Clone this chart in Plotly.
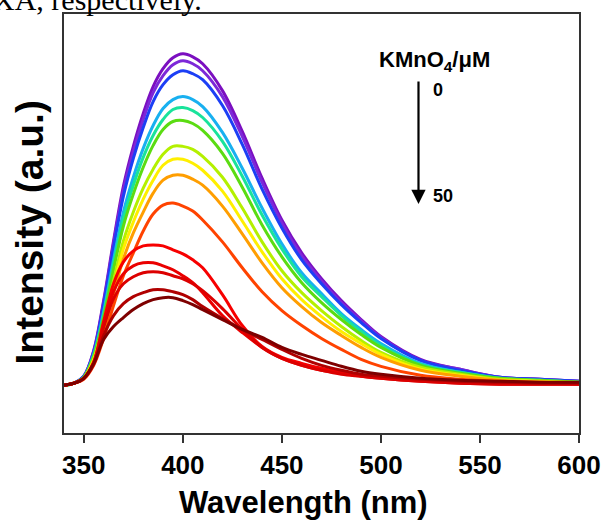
import plotly.graph_objects as go

wavelength = [340, 345, 350, 355, 360, 365, 370, 375, 380, 385, 390, 395, 400, 405, 410,
              420, 430, 440, 450, 460, 470, 480, 490, 500, 520, 540, 560, 580, 600]

conc_labels = ["0", "50"]

c01 = [48, 50, 57, 83, 133, 193, 248, 288, 321, 348, 366, 377, 381, 378, 371, 344, 303, 256, 214, 181, 155, 133, 114, 97, 74, 64, 56, 54, 52]
c02 = [48, 50, 57, 82, 131, 190, 244, 283, 315, 342, 359, 370, 374, 371, 364, 338, 298, 252, 211, 178, 153, 131, 113, 96, 73, 64, 56, 54, 52]
c03 = [48, 50, 57, 81, 129, 186, 238, 276, 307, 333, 350, 360, 364, 361, 355, 329, 290, 245, 206, 174, 150, 129, 111, 95, 73, 63, 56, 54, 52]
c04 = [48, 50, 56, 79, 122, 174, 222, 257, 286, 309, 326, 335, 338, 335, 328, 302, 266, 226, 190, 161, 140, 120, 104, 90, 70, 61, 55, 53, 51]
c05 = [48, 50, 56, 78, 119, 170, 216, 249, 277, 299, 315, 325, 327, 324, 317, 293, 258, 219, 185, 157, 137, 118, 102, 88, 69, 61, 55, 53, 51]
c06 = [48, 50, 56, 77, 116, 164, 208, 240, 267, 289, 305, 313, 314, 311, 304, 281, 247, 209, 177, 151, 131, 114, 99, 86, 68, 60, 55, 53, 51]
c07 = [48, 50, 55, 75, 110, 153, 193, 222, 246, 265, 280, 288, 288, 285, 278, 257, 226, 192, 163, 141, 123, 107, 93, 81, 66, 59, 54, 52, 51]
c08 = [48, 50, 55, 73, 106, 147, 185, 212, 235, 254, 269, 275, 275, 271, 264, 243, 213, 182, 155, 134, 117, 102, 90, 79, 64, 58, 53, 52, 50]
c09 = [48, 50, 55, 72, 102, 140, 175, 201, 222, 241, 254, 259, 259, 255, 249, 228, 200, 171, 146, 127, 111, 98, 86, 76, 63, 57, 53, 51, 50]
c10 = [48, 50, 54, 68, 95, 128, 158, 181, 203, 220, 229, 231, 228, 223, 214, 192, 166, 142, 123, 108, 95, 84, 74, 67, 58, 54, 52, 51, 50]
c11 = [48, 50, 55, 71, 112, 150, 172, 183, 188, 189, 188, 184, 180, 174, 166, 139, 108, 87, 76, 70, 65, 61, 58, 56, 53, 51, 50, 50, 49]
c12 = [48, 50, 55, 71, 110, 142, 160, 168, 171, 171, 168, 164, 158, 151, 141, 118, 101, 86, 75, 68, 63, 60, 57, 55, 52, 50, 49, 49, 49]
c13 = [48, 50, 55, 70, 106, 135, 150, 157, 161, 162, 161, 158, 155, 150, 143, 125, 104, 86, 75, 68, 63, 59, 57, 55, 52, 50, 49, 49, 49]
c14 = [48, 50, 55, 69, 98, 118, 130, 137, 141, 144, 144, 142, 139, 134, 127, 115, 104, 94, 84, 75, 68, 63, 59, 57, 54, 52, 51, 50, 50]
c15 = [48, 50, 55, 70, 94, 107, 116, 124, 130, 134, 136, 136, 133, 129, 124, 114, 104, 96, 86, 79, 73, 67, 62, 59, 55, 53, 52, 51, 51]

series = [c01, c02, c03, c04, c05, c06, c07, c08, c09, c10, c11, c12, c13, c14, c15]
colors = ["#7B0FC0", "#7D28D8", "#1C3FF5", "#18B0F0", "#19E39B", "#5BDC12", "#B4F000",
          "#FFEF00", "#FF9E00", "#FF4300", "#F70000", "#EA0000", "#DC0000", "#B00000", "#7E0000"]

fig = go.Figure()
for ys, col in zip(series, colors):
    fig.add_trace(go.Scatter(x=wavelength, y=ys, mode="lines",
                             line=dict(color=col, width=3, shape="spline", smoothing=1.0),
                             showlegend=False, hoverinfo="skip"))

W, H = 613, 523
L, R, T, B = 64, 26, 12, 90
pw, ph = W - L - R, H - T - B

def px(xp):
    return (xp - L) / pw

def py(yp):
    return (H - B - yp) / ph

font_b = "Liberation Sans, Arial, sans-serif"

fig.update_layout(
    width=W, height=H,
    margin=dict(l=L, r=R, t=T, b=B),
    paper_bgcolor="white", plot_bgcolor="white",
    xaxis=dict(range=[340, 600], tickvals=[350, 400, 450, 500, 550, 600],
               ticks="outside", ticklen=8, tickwidth=1.5, tickcolor="#333",
               showline=True, linecolor="#333", linewidth=1.5, mirror=True,
               showgrid=False, zeroline=False,
               tickfont=dict(family=font_b, size=26, color="black", weight="bold")),
    yaxis=dict(range=[0, 421], showticklabels=False, ticks="",
               showline=True, linecolor="#333", linewidth=1.5, mirror=True,
               showgrid=False, zeroline=False),
)

anns = [
    dict(text="<b>Wavelength (nm)</b>", x=px(307), y=py(503), xref="paper", yref="paper",
         showarrow=False, xanchor="center", yanchor="middle",
         font=dict(family=font_b, size=31, color="black")),
    dict(text="<b>Intensity (a.u.)</b>", x=px(29), y=py(232), xref="paper", yref="paper",
         showarrow=False, xanchor="center", yanchor="middle", textangle=-90,
         font=dict(family=font_b, size=39, color="black")),
    dict(text="<b>KMnO<sub>4</sub>/μM</b>", x=px(440), y=py(59), xref="paper", yref="paper",
         showarrow=False, xanchor="center", yanchor="middle",
         font=dict(family=font_b, size=22, color="black")),
    dict(text="<b>" + conc_labels[0] + "</b>", x=px(437), y=py(88), xref="paper", yref="paper",
         showarrow=False, xanchor="left", yanchor="middle",
         font=dict(family=font_b, size=18, color="black")),
    dict(text="<b>" + conc_labels[1] + "</b>", x=px(437), y=py(195), xref="paper", yref="paper",
         showarrow=False, xanchor="left", yanchor="middle",
         font=dict(family=font_b, size=18, color="black")),
    dict(text="", x=px(424), y=py(203), xref="paper", yref="paper",
         showarrow=True, ax=0, ay=-124, axref="pixel", ayref="pixel",
         arrowhead=2, arrowsize=1.3, arrowwidth=2.2, arrowcolor="black", standoff=0),
    dict(text="XA, respectively.", x=px(-10), y=py(-3), xref="paper", yref="paper",
         showarrow=False, xanchor="left", yanchor="middle",
         font=dict(family="Liberation Serif, Times New Roman, serif", size=30, color="black")),
]
fig.update_layout(annotations=anns)

fig.write_html("out.html")
